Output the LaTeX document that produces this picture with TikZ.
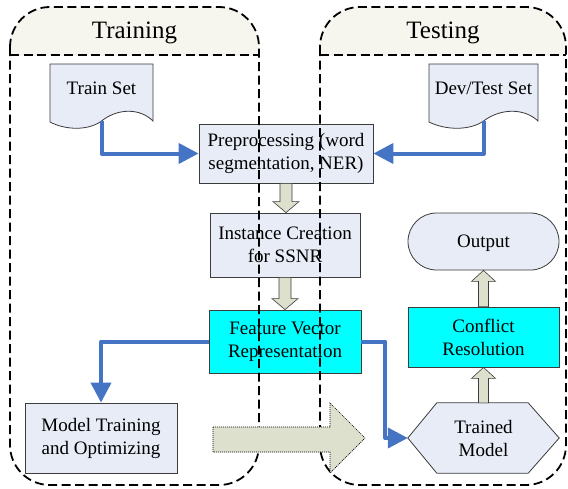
\documentclass[tikz,border=0pt]{standalone}
\usepackage{fontspec}
\setmainfont{Liberation Serif}
\usetikzlibrary{arrows.meta,calc,backgrounds}
\definecolor{boxfill}{RGB}{231,236,247}
\definecolor{hdrfill}{RGB}{246,246,238}
\definecolor{beige}{RGB}{221,224,204}
\definecolor{connblue}{RGB}{70,116,197}
\definecolor{linegray}{RGB}{60,60,60}
\definecolor{cyanfill}{RGB}{0,255,255}
\tikzset{
  boxtxt/.style={font=\fontsize{19}{23}\selectfont, align=center, inner sep=0pt},
  procbox/.style={boxtxt, draw=linegray, line width=0.8pt, fill=boxfill},
  cyanbox/.style={boxtxt, draw=linegray, line width=0.8pt, fill=cyanfill},
  docshape/.style={draw=linegray, line width=0.8pt, fill=boxfill},
  container/.style={draw=black, line width=1.8pt, dash pattern=on 9pt off 4.5pt},
  hdrtxt/.style={font=\fontsize{25}{30}\selectfont, inner sep=0pt, anchor=base},
  bluearr/.style={draw=connblue, line width=4pt, line join=round,
    -{Triangle[length=20pt,width=20pt]}},
  blockarr/.style={draw=linegray, line width=0.6pt, fill=beige},
  bigarr/.style={draw=black, line width=0.7pt, dash pattern=on 1pt off 1pt, fill=beige}
}
\newcommand\blockdown[2]{\draw[blockarr] let \p1=(#1), \p2=(#2) in
  (\x1-6pt,\y1) -- (\x1-6pt,\y2+11pt) -- (\x1-13pt,\y2+11pt) -- (\x1,\y2)
  -- (\x1+13pt,\y2+11pt) -- (\x1+6pt,\y2+11pt) -- (\x1+6pt,\y1) -- cycle;}
\newcommand\blockup[2]{\draw[blockarr] let \p1=(#1), \p2=(#2) in
  (\x1-5pt,\y1) -- (\x1-5pt,\y2-11pt) -- (\x1-12pt,\y2-11pt) -- (\x1,\y2)
  -- (\x1+12pt,\y2-11pt) -- (\x1+5pt,\y2-11pt) -- (\x1+5pt,\y1) -- cycle;}
\newcommand\mydoc[2]{\draw[docshape] (#1,64) -- (#2,64) -- (#2,121)
  .. controls ({#1+0.874*(#2-#1)},108) and ({#1+0.66*(#2-#1)},108) .. ({#1+0.5*(#2-#1)},121)
  .. controls ({#1+0.37*(#2-#1)},131) and ({#1+0.146*(#2-#1)},130) .. (#1,122) -- cycle;}
\begin{document}
\begin{tikzpicture}[x=1pt,y=-1pt]
\useasboundingbox (0,0) rectangle (568,488);

% header fills
\begin{scope}
  \clip (0,0) rectangle (568,55);
  \fill[hdrfill, rounded corners=40pt] (10,7) rectangle (259,485);
  \fill[hdrfill, rounded corners=40pt] (320,7) rectangle (566,485);
\end{scope}

% documents
\mydoc{50}{153}
\mydoc{429}{538}
\node[boxtxt, text depth=0pt] (trainset) at (101.5,88) {Train Set};
\node[boxtxt, text depth=0pt] (devset) at (483.5,88) {Dev/Test Set};
\coordinate (trainw) at (101.5,121);
\coordinate (devw) at (483.5,121);

% process boxes
\node[procbox, minimum width=174pt, minimum height=59pt] (pre) at (286,153.5) {Preprocessing (word\\segmentation, NER)};
\node[procbox, minimum width=150pt, minimum height=64pt] (inst) at (285,245) {Instance Creation\\for SSNR};
\node[cyanbox, minimum width=152pt, minimum height=63pt] (feat) at (285,341.5) {Feature Vector\\Representation};
\node[procbox, minimum width=152pt, minimum height=70pt] (mt) at (101,438) {Model Training\\and Optimizing};
\node[cyanbox, minimum width=151pt, minimum height=60pt] (conf) at (483.5,337) {Conflict\\Resolution};
\node[procbox, text depth=0pt, minimum width=151pt, minimum height=57pt, rounded corners=28.5pt] (out) at (483.5,241.5) {Output};
\node[boxtxt, minimum width=151pt, minimum height=70pt] (tm) at (483.5,438) {Trained\\Model};
\begin{scope}[on background layer]
  \fill[white] (0,0) rectangle (568,488);
  \draw[docshape] (tm.west) -- ($(tm.north west)+(29,0)$) -- ($(tm.north east)+(-31,0)$)
    -- (tm.east) -- ($(tm.south east)+(-31,0)$) -- ($(tm.south west)+(29,0)$) -- cycle;
\end{scope}

% block arrows
\blockdown{pre.south}{inst.north}
\blockdown{inst.south}{feat.north}
\blockup{tm.north}{conf.south}
\blockup{conf.north}{out.south}

% blue connectors
\draw[bluearr] (trainw) |- (pre.west);
\draw[bluearr] (devw) |- (pre.east);
\draw[bluearr] (feat.west) -| (mt.north);
\draw[bluearr] (feat.east) -- ++(24,0) |- (tm.west);

% containers
\draw[container, rounded corners=40pt] (10,7) rectangle (259,485);
\draw[container] (10,55) -- (259,55);
\draw[container, rounded corners=40pt] (320,7) rectangle (566,485);
\draw[container] (320,55) -- (566,55);
\node[hdrtxt] (trh) at (134.5,38) {Training};
\node[hdrtxt] (teh) at (443,38) {Testing};

% big arrow
\draw[bigarr] (213,427) -- (330,427) -- (330,403) -- (365,438) -- (330,473) -- (330,452) -- (213,452) -- cycle;
\end{tikzpicture}
\end{document}
